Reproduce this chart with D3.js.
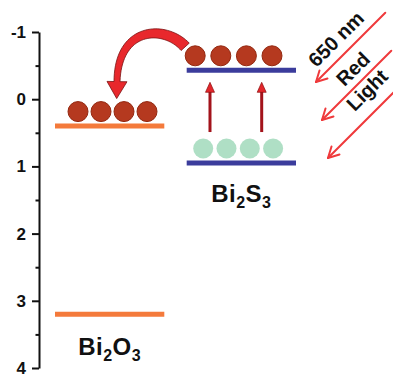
<!DOCTYPE html>
<html>
<head>
<meta charset="utf-8">
<script src="https://cdn.jsdelivr.net/npm/d3@7"></script>
<style>
  body { margin: 0; background: #fff; }
  svg { display: block; font-family: "Liberation Sans", Arial, sans-serif; font-weight: bold; }
</style>
</head>
<body>
<div id="vis"></div>
<script>
// band edges (eV)
var materials = ["Bi2O3", "Bi2S3"];
var nameParts = [["Bi", "2", "O", "3"], ["Bi", "2", "S", "3"]];
var cbEdge = [0.40, -0.43];
var vbEdge = [3.20, 0.95];
var cbElectrons = [4, 4];
var vbHoles = [0, 4];
var majorTicks = [-1, 0, 1, 2, 3, 4];
var minorTicks = [-0.5, 0.5, 1.5, 2.5, 3.5];
var lightLabels = ["650 nm", "Red", "Light"];

var width = 393, height = 377;
var levelColor = { "Bi2O3": "#f47a3b", "Bi2S3": "#3b3c9c" };

var svg = d3.select("#vis").append("svg")
  .attr("width", width).attr("height", height);

// scales
var y = d3.scaleLinear().domain([-1, 4]).range([32, 368]);
var x = d3.scaleBand().domain(materials).range([55, 296]).paddingInner(0.17);

// axis
var yAxis = d3.axisLeft(y).tickValues(majorTicks).tickSize(7).tickSizeOuter(0)
  .tickPadding(6).tickFormat(function (d) { return String(d); });
var yMinor = d3.axisLeft(y).tickValues(minorTicks).tickSize(3.5).tickSizeOuter(0)
  .tickFormat("");

var ax = svg.append("g").attr("transform", "translate(39,0)").call(yAxis);
svg.append("g").attr("transform", "translate(39,0)").call(yMinor)
  .select(".domain").remove();
svg.selectAll(".domain, .tick line").attr("stroke", "#111").attr("stroke-width", 2);
ax.selectAll(".tick text").attr("font-size", 17).attr("fill", "#111")
  .attr("font-family", "Liberation Sans, Arial, sans-serif").attr("font-weight", "bold");

// energy levels
var levels = [];
materials.forEach(function (m, i) {
  levels.push({ m: m, v: cbEdge[i] });
  levels.push({ m: m, v: vbEdge[i] });
});
svg.selectAll(".level").data(levels).enter().append("line")
  .attr("class", "level")
  .attr("x1", function (d) { return x(d.m); })
  .attr("x2", function (d) { return x(d.m) + x.bandwidth(); })
  .attr("y1", function (d) { return y(d.v); })
  .attr("y2", function (d) { return y(d.v); })
  .attr("stroke", function (d) { return levelColor[d.m]; })
  .attr("stroke-width", 5);

// electrons and holes sitting on the levels
var rowLayout = {
  "Bi2O3": { start: 23, step: 23 },
  "Bi2S3": { start: 8.5, step: 25.6 },
  "hole": { start: 16.5, step: 23.3 }
};
var dots = [];
materials.forEach(function (m, i) {
  d3.range(cbElectrons[i]).forEach(function (k) {
    var L = rowLayout[m];
    dots.push({ x: x(m) + L.start + k * L.step, y: y(cbEdge[i]) - 14.5, kind: "e" });
  });
  d3.range(vbHoles[i]).forEach(function (k) {
    var L = rowLayout.hole;
    dots.push({ x: x(m) + L.start + k * L.step, y: y(vbEdge[i]) - 14.5, kind: "h" });
  });
});
svg.selectAll(".dot").data(dots).enter().append("circle")
  .attr("class", "dot")
  .attr("cx", function (d) { return d.x; })
  .attr("cy", function (d) { return d.y; })
  .attr("r", 10)
  .attr("fill", function (d) { return d.kind === "e" ? "#b5391f" : "#a6dcbf"; })
  .attr("stroke", function (d) { return d.kind === "e" ? "#93270f" : "none"; })
  .attr("stroke-width", 1)
  .attr("opacity", function (d) { return d.kind === "e" ? 1 : 0.9; });

// excitation arrows in Bi2S3
var s = materials[1];
var upX = [23.3, 75];
upX.forEach(function (dx) {
  var ax0 = x(s) + dx;
  var tip = y(cbEdge[1]) + 12;
  var tail = y(vbEdge[1]) - 31;
  svg.append("line").attr("x1", ax0).attr("x2", ax0).attr("y1", tail).attr("y2", tip + 8)
    .attr("stroke", "#a3131b").attr("stroke-width", 3);
  svg.append("path")
    .attr("d", "M" + ax0 + "," + tip + "L" + (ax0 - 4.5) + "," + (tip + 10) + "L" + (ax0 + 4.5) + "," + (tip + 10) + "Z")
    .attr("fill", "#e3262b").attr("stroke", "#8b1010").attr("stroke-width", 0.7);
});

// curved transfer arrow Bi2S3 -> Bi2O3 (tapered band built along a bezier)
var e0 = dots.filter(function (d) { return d.kind === "e" && d.x > x(s); })[0];
var e3 = dots.filter(function (d) { return d.kind === "e" && d.x < x(s); })[2];
var P0 = [e0.x - 10, e0.y - 9];
var P3 = [e3.x - 7, e3.y - 30];
var P1 = [P0[0] - 20, P0[1] - 22];
var P2 = [P3[0] + 1, P3[1] - 56];
function bez(t, i) {
  var u = 1 - t;
  return u * u * u * P0[i] + 3 * u * u * t * P1[i] + 3 * u * t * t * P2[i] + t * t * t * P3[i];
}
function dbez(t, i) {
  var u = 1 - t;
  return 3 * u * u * (P1[i] - P0[i]) + 6 * u * t * (P2[i] - P1[i]) + 3 * t * t * (P3[i] - P2[i]);
}
var left = [], right = [];
d3.range(0, 1.0001, 1 / 40).forEach(function (t) {
  var px = bez(t, 0), py = bez(t, 1);
  var tx = dbez(t, 0), ty = dbez(t, 1);
  var n = Math.sqrt(tx * tx + ty * ty);
  var nx = -ty / n, ny = tx / n;
  var w = (11 - 5 * t) / 2;
  left.push([px + nx * w, py + ny * w]);
  right.push([px - nx * w, py - ny * w]);
});
var tx1 = dbez(1, 0), ty1 = dbez(1, 1), n1 = Math.sqrt(tx1 * tx1 + ty1 * ty1);
var ux = tx1 / n1, uy = ty1 / n1;
var head = [
  [P3[0] - uy * 10, P3[1] + ux * 10],
  [P3[0] + ux * 17, P3[1] + uy * 17],
  [P3[0] + uy * 10, P3[1] - ux * 10]
];
var shape = left.concat(head).concat(right.reverse());
svg.append("path")
  .attr("d", d3.line()(shape) + "Z")
  .attr("fill", "#e8282c").attr("stroke", "#7a1212").attr("stroke-width", 0.8);

// incoming red light arrows
var lightArrows = [0, 1, 2].map(function (i) {
  return { tip: [316 + 6 * i, 82 + 38 * i], len: 98 };
});
var lg = svg.append("g").attr("stroke", "#ef3a3c").attr("stroke-width", 2)
  .attr("fill", "none").attr("stroke-linecap", "round");
lightArrows.forEach(function (a) {
  var dx = Math.SQRT1_2, dy = -Math.SQRT1_2; // direction tip -> tail
  var tail = [a.tip[0] + dx * a.len, a.tip[1] + dy * a.len];
  lg.append("line").attr("x1", tail[0]).attr("y1", tail[1]).attr("x2", a.tip[0]).attr("y2", a.tip[1]);
  [-28, 28].forEach(function (deg) {
    var r = deg * Math.PI / 180;
    var hx = dx * Math.cos(r) - dy * Math.sin(r), hy = dx * Math.sin(r) + dy * Math.cos(r);
    lg.append("line").attr("x1", a.tip[0]).attr("y1", a.tip[1])
      .attr("x2", a.tip[0] + hx * 12).attr("y2", a.tip[1] + hy * 12);
  });
});
var lightPos = [[336, 39], [353, 69], [367, 90]];
svg.selectAll(".light-label").data(lightLabels).enter().append("text")
  .attr("class", "light-label")
  .attr("transform", function (d, i) { return "translate(" + lightPos[i] + ") rotate(-45)"; })
  .attr("text-anchor", "middle").attr("dominant-baseline", "central")
  .attr("font-size", 20).attr("fill", "#111")
  .text(function (d) { return d; });

// material labels with subscripts
var labelBase = { "Bi2O3": 355, "Bi2S3": 202 };
materials.forEach(function (m, i) {
  var t = svg.append("text")
    .attr("x", x(m) + x.bandwidth() / 2)
    .attr("y", labelBase[m])
    .attr("text-anchor", "middle").attr("font-size", 24).attr("fill", "#111")
    .attr("letter-spacing", 0.5);
  nameParts[i].forEach(function (p, k) {
    var sub = k % 2 === 1;
    t.append("tspan").attr("font-size", sub ? 16 : 24)
      .attr("dy", k === 0 ? 0 : (sub ? 6 : -6)).text(p);
  });
});
</script>
</body>
</html>
